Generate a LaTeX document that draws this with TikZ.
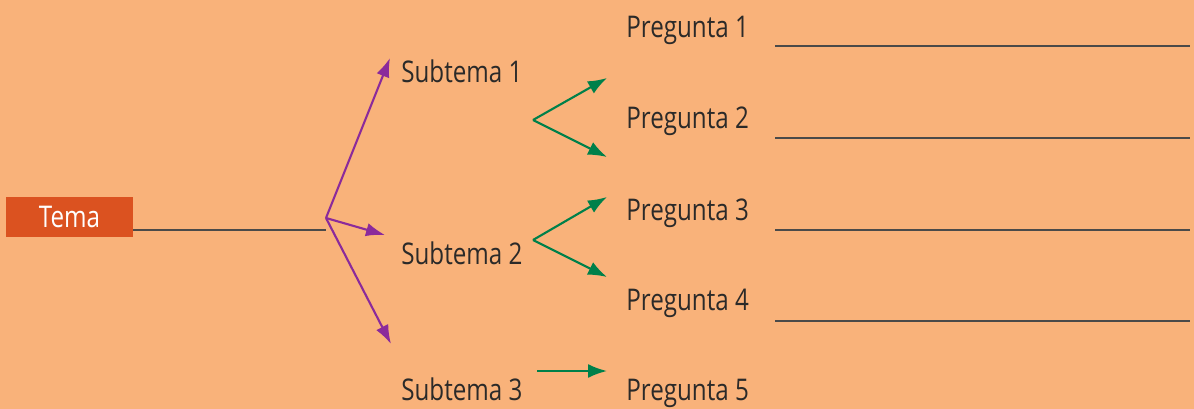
\documentclass[tikz,border=0pt]{standalone}
\usepackage{fontspec}
\setmainfont[FakeStretch=0.81]{Open Sans}
\usetikzlibrary{arrows.meta,positioning}
\definecolor{fondo}{HTML}{F9B27A}
\definecolor{temarojo}{HTML}{DB5220}
\definecolor{morado}{HTML}{8B2A9B}
\definecolor{verde}{HTML}{00804A}
\definecolor{texto}{HTML}{2B2A29}
\begin{document}
\begin{tikzpicture}[x=0.02cm,y=-0.02cm,
    etiqueta/.style={anchor=base west, inner sep=0pt, text=texto, font=\fontsize{17}{19}\selectfont},
    flechamorada/.style={draw=morado, line width=1.2pt, -{Latex[length=0.38cm,width=0.27cm]}},
    flechaverde/.style={draw=verde, line width=1.2pt, -{Latex[length=0.38cm,width=0.28cm]}},
    renglon/.style={draw=texto!85, line width=0.7pt}]
    \fill[fondo] (0,0) rectangle (1194,409);
    \useasboundingbox (0,0) rectangle (1194,409);

    % tema
    \node[fill=temarojo, text=white, minimum width=2.54cm, minimum height=0.8cm, inner sep=0pt,
          font=\fontsize{17}{19}\selectfont] (tema) at (69.5,217) {Tema};
    \coordinate (rama) at (326,218);
    \draw[line width=0.9pt, draw=texto!85] (tema.east |- 0,230) -- (326,230);

    % subtemas
    \node[etiqueta] (sub1) at (401,82) {Subtema 1};
    \node[etiqueta] (sub2) at (401,264) {Subtema 2};
    \node[etiqueta] (sub3) at (401,400) {Subtema 3};
    \coordinate (p1) at (390,58);
    \coordinate (p2) at (385,235);
    \coordinate (p3) at (391,344);
    \draw[flechamorada] (rama) -- (p1);
    \draw[flechamorada] (rama) -- (p2);
    \draw[flechamorada] (rama) -- (p3);

    % preguntas
    \node[etiqueta] (preg1) at (626,37.5) {Pregunta 1};
    \node[etiqueta] (preg2) at (626,128.5) {Pregunta 2};
    \node[etiqueta] (preg3) at (626,220.5) {Pregunta 3};
    \node[etiqueta] (preg4) at (626,310.5) {Pregunta 4};
    \node[etiqueta] (preg5) at (626,400.5) {Pregunta 5};

    \coordinate (v1) at (533,120);
    \coordinate (v2) at (533,240);
    \coordinate (v3) at (537,371);
    \draw[flechaverde] (v1) -- (607,78);
    \draw[flechaverde] (v1) -- (607,157);
    \draw[flechaverde] (v2) -- (607,197);
    \draw[flechaverde] (v2) -- (607,277);
    \draw[flechaverde] (v3) -- (607,371);

    % renglones
    \foreach \y in {46,138,230,321}
        \draw[renglon] (775,\y) -- (1190,\y);
\end{tikzpicture}
\end{document}
